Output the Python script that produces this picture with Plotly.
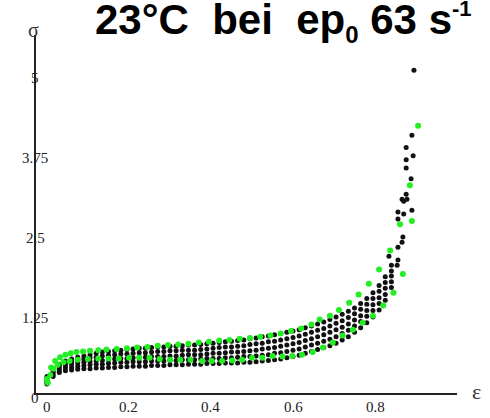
import plotly.graph_objects as go

# ---- data ----
strain_grid = [0.000, 0.015, 0.030, 0.045, 0.060, 0.075, 0.090, 0.105, 0.120, 0.135,
               0.150, 0.165, 0.180, 0.195, 0.210, 0.225, 0.240, 0.255, 0.270, 0.285,
               0.300, 0.315, 0.330, 0.345, 0.360, 0.375, 0.390, 0.405, 0.420, 0.435,
               0.450, 0.465, 0.480, 0.495, 0.510, 0.525, 0.540, 0.555, 0.570, 0.585,
               0.600, 0.615, 0.630, 0.645, 0.660, 0.675, 0.690, 0.705, 0.720, 0.735,
               0.750, 0.765, 0.780, 0.795, 0.810, 0.825, 0.840]

black_1 = [0.14, 0.26, 0.32, 0.35, 0.36, 0.37, 0.38, 0.38, 0.39, 0.39,
           0.40, 0.40, 0.41, 0.41, 0.42, 0.42, 0.42, 0.43, 0.43, 0.43,
           0.44, 0.44, 0.44, 0.45, 0.45, 0.45, 0.46, 0.46, 0.46, 0.47,
           0.47, 0.47, 0.48, 0.48, 0.49, 0.50, 0.51, 0.52, 0.53, 0.55,
           0.57, 0.59, 0.62, 0.65, 0.68, 0.71, 0.74, 0.78, 0.83, 0.88,
           0.95, 1.02, 1.10, 1.19, 1.30, 1.45, 1.65]
black_2 = [0.17, 0.29, 0.35, 0.39, 0.40, 0.42, 0.43, 0.44, 0.45, 0.45,
           0.46, 0.47, 0.48, 0.48, 0.49, 0.49, 0.49, 0.50, 0.50, 0.50,
           0.51, 0.51, 0.52, 0.52, 0.52, 0.53, 0.54, 0.54, 0.54, 0.55,
           0.55, 0.56, 0.57, 0.57, 0.58, 0.59, 0.60, 0.62, 0.63, 0.65,
           0.67, 0.69, 0.72, 0.75, 0.78, 0.81, 0.84, 0.88, 0.93, 0.98,
           1.05, 1.12, 1.20, 1.29, 1.40, 1.54, 1.74]
black_3 = [0.20, 0.32, 0.38, 0.43, 0.45, 0.47, 0.48, 0.49, 0.50, 0.51,
           0.52, 0.53, 0.54, 0.54, 0.55, 0.56, 0.56, 0.57, 0.57, 0.57,
           0.58, 0.58, 0.59, 0.60, 0.60, 0.60, 0.61, 0.62, 0.62, 0.63,
           0.64, 0.64, 0.65, 0.66, 0.67, 0.69, 0.70, 0.71, 0.73, 0.75,
           0.77, 0.79, 0.82, 0.85, 0.88, 0.91, 0.95, 0.99, 1.03, 1.08,
           1.14, 1.21, 1.29, 1.38, 1.49, 1.64, 1.83]
black_4 = [0.23, 0.35, 0.42, 0.46, 0.49, 0.51, 0.53, 0.55, 0.56, 0.58,
           0.59, 0.60, 0.61, 0.61, 0.62, 0.63, 0.63, 0.64, 0.65, 0.65,
           0.66, 0.66, 0.67, 0.67, 0.67, 0.68, 0.69, 0.70, 0.71, 0.72,
           0.72, 0.73, 0.74, 0.76, 0.77, 0.78, 0.80, 0.81, 0.83, 0.85,
           0.87, 0.89, 0.92, 0.95, 0.98, 1.01, 1.05, 1.09, 1.13, 1.18,
           1.24, 1.31, 1.39, 1.48, 1.59, 1.73, 1.91]
black_5 = [0.26, 0.38, 0.45, 0.50, 0.53, 0.56, 0.58, 0.60, 0.62, 0.64,
           0.65, 0.66, 0.67, 0.68, 0.69, 0.70, 0.70, 0.71, 0.72, 0.72,
           0.73, 0.73, 0.74, 0.75, 0.75, 0.76, 0.77, 0.78, 0.79, 0.80,
           0.81, 0.82, 0.83, 0.85, 0.86, 0.88, 0.89, 0.91, 0.93, 0.95,
           0.97, 0.99, 1.02, 1.05, 1.08, 1.11, 1.15, 1.19, 1.23, 1.28,
           1.33, 1.40, 1.48, 1.57, 1.68, 1.82, 2.00]

black_1_tail_x = [0.854, 0.866, 0.878]
black_1_tail_y = [2.00, 2.36, 3.03]
black_2_tail_x = [0.856, 0.868, 0.876, 0.888]
black_2_tail_y = [2.08, 2.44, 3.11, 3.35]
black_3_tail_x = [0.856, 0.870, 0.876, 0.890]
black_3_tail_y = [2.28, 2.80, 3.52, 4.03]
black_4_tail_x = [0.856, 0.870, 0.876, 0.890]
black_4_tail_y = [2.72, 3.00, 3.65, 2.86]
black_5_tail_x = [0.834, 0.856, 0.866, 0.876, 0.893, 0.895]
black_5_tail_y = [2.14, 2.83, 3.03, 3.84, 3.71, 5.05]

green_upper_x = [0.000, 0.010, 0.020, 0.032, 0.045, 0.058, 0.072, 0.088, 0.105, 0.125,
                 0.145, 0.170, 0.195, 0.220, 0.245, 0.270, 0.295, 0.320, 0.345, 0.370,
                 0.395, 0.420, 0.445, 0.470, 0.495, 0.520, 0.545, 0.570, 0.595, 0.620,
                 0.645, 0.665, 0.690, 0.712, 0.737, 0.760, 0.785, 0.810, 0.837, 0.861,
                 0.885, 0.905]
green_upper_y = [0.22, 0.40, 0.50, 0.56, 0.60, 0.62, 0.64, 0.65, 0.66, 0.67,
                 0.68, 0.69, 0.70, 0.71, 0.72, 0.74, 0.75, 0.76, 0.77, 0.79,
                 0.80, 0.82, 0.83, 0.85, 0.86, 0.88, 0.90, 0.93, 0.97, 1.01,
                 1.07, 1.15, 1.21, 1.30, 1.41, 1.54, 1.71, 1.93, 2.23, 2.64,
                 3.25, 4.18]
green_lower_x = [0.002, 0.008, 0.016, 0.026, 0.040, 0.055, 0.075, 0.100, 0.125, 0.150,
                 0.175, 0.200, 0.225, 0.250, 0.275, 0.300, 0.325, 0.350, 0.378, 0.402,
                 0.427, 0.452, 0.476, 0.500, 0.525, 0.550, 0.574, 0.598, 0.622, 0.648,
                 0.673, 0.697, 0.721, 0.746, 0.770, 0.795, 0.820, 0.845, 0.868, 0.890]
green_lower_y = [0.16, 0.28, 0.38, 0.44, 0.48, 0.50, 0.52, 0.53, 0.54, 0.54,
                 0.54, 0.55, 0.55, 0.55, 0.53, 0.52, 0.52, 0.52, 0.50, 0.50,
                 0.50, 0.51, 0.52, 0.55, 0.55, 0.58, 0.57, 0.58, 0.60, 0.64,
                 0.71, 0.79, 0.90, 0.99, 1.10, 1.21, 1.37, 1.57, 1.86, 2.69]

x_tick_vals = [0, 0.2, 0.4, 0.6, 0.8]
x_tick_text = ["0", "0.2", "0.4", "0.6", "0.8"]
y_tick_vals = [0, 1.25, 2.5, 3.75, 5]
y_tick_text = ["0", "1.25", "2.5", "3.75", "5"]

title_text = ("<b>23°C\u00a0\u00a0bei\u00a0\u00a0ep<sub><span style='font-size:24px'>0</span></sub>"
              " 63 s<sup><span style='font-size:22px'>-1</span></sup></b>")

# ---- figure ----
BLACK = "#111111"
GREEN = "#22ee22"

fig = go.Figure()
black_sets = [
    (black_1, black_1_tail_x, black_1_tail_y),
    (black_2, black_2_tail_x, black_2_tail_y),
    (black_3, black_3_tail_x, black_3_tail_y),
    (black_4, black_4_tail_x, black_4_tail_y),
    (black_5, black_5_tail_x, black_5_tail_y),
]
for ys, tx, ty in black_sets:
    fig.add_trace(go.Scatter(x=strain_grid + tx, y=ys + ty, mode="markers",
                             marker=dict(color=BLACK, size=5, line=dict(width=0)),
                             showlegend=False, hoverinfo="skip"))
for gx, gy in [(green_upper_x, green_upper_y), (green_lower_x, green_lower_y)]:
    fig.add_trace(go.Scatter(x=gx, y=gy, mode="markers",
                             marker=dict(color=GREEN, size=6, line=dict(width=0)),
                             showlegend=False, hoverinfo="skip"))

serif = "Liberation Serif, Times New Roman, serif"
annotations = []
for v, t in zip(x_tick_vals, x_tick_text):
    annotations.append(dict(x=v, y=0, xref="x", yref="paper", text=t, showarrow=False,
                            xanchor="center", yanchor="middle", yshift=-14,
                            font=dict(family=serif, size=15, color="#222222")))
for v, t in zip(y_tick_vals, y_tick_text):
    annotations.append(dict(x=0, y=v, xref="paper", yref="y", text=t, showarrow=False,
                            xanchor="center", yanchor="middle", yshift=-5, xshift=-1,
                            font=dict(family=serif, size=15, color="#222222")))
annotations.append(dict(x=-0.005, y=1.014, xref="paper", yref="paper", text="σ",
                        showarrow=False, xanchor="center", yanchor="middle",
                        font=dict(family=serif, size=20, color="#333333")))
annotations.append(dict(x=1.0475, y=0.003, xref="paper", yref="paper", text="ε",
                        showarrow=False, xanchor="center", yanchor="middle",
                        font=dict(family=serif, size=22, color="#333333")))
annotations.append(dict(x=0.589, y=1.037, xref="paper", yref="paper", text=title_text,
                        showarrow=False, xanchor="center", yanchor="middle",
                        font=dict(family="Liberation Sans, Arial, sans-serif", size=42,
                                  color="#000000")))

fig.update_layout(
    width=490, height=418,
    margin=dict(l=36, r=33, t=35, b=25, pad=0),
    paper_bgcolor="white", plot_bgcolor="white",
    annotations=annotations,
    xaxis=dict(range=[-0.0268, 1.0], showgrid=False, zeroline=False, showline=True,
               linecolor="#222222", linewidth=1.5, showticklabels=False, ticks=""),
    yaxis=dict(range=[0, 5.6], showgrid=False, zeroline=False, showline=True,
               linecolor="#222222", linewidth=1.5, showticklabels=False, ticks=""),
)

fig.write_html("out.html", config={"displayModeBar": False},
               post_script="document.body.style.margin='0';document.body.style.overflow='hidden';")
